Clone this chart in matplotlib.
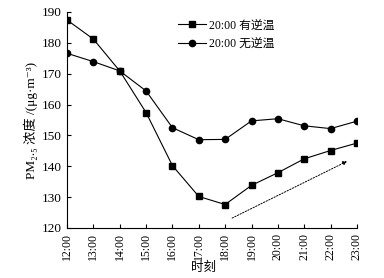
import matplotlib
matplotlib.use("Agg")
import matplotlib.pyplot as plt

plt.rcParams['font.family'] = ['Liberation Serif', 'Noto Sans CJK SC', 'DejaVu Serif']

hours = list(range(12, 24))
hour_labels = [f"{h}:00" for h in hours]
with_inversion = [187.4, 181.2, 170.9, 157.4, 140.2, 130.2, 127.6, 133.8, 137.9, 142.4, 145.1, 147.5]
no_inversion = [176.6, 173.9, 170.9, 164.4, 152.5, 148.6, 148.7, 154.7, 155.4, 153.1, 152.2, 154.6]
trend_start = (18.17, 122.8)
trend_end = (22.72, 142.0)

fig = plt.figure(figsize=(3.84, 2.78), dpi=100)
ax = fig.add_axes([0.1745, 0.18, 0.755, 0.777])

ax.plot(hours, with_inversion, color='black', lw=0.8, marker='s', ms=4.5,
        label='20:00 有逆温')
ax.plot(hours, no_inversion, color='black', lw=0.8, marker='o', ms=4.5,
        label='20:00 无逆温')

ax.annotate('', xy=trend_end, xytext=trend_start,
            arrowprops=dict(arrowstyle='-|>', linestyle=(0, (1.5, 1.5)), lw=0.7,
                            color='black', mutation_scale=6))

ax.set_xlim(12, 23)
ax.set_ylim(120, 190)
ax.set_xticks(hours)
ax.set_xticklabels(hour_labels, rotation=90, fontsize=8.5)
ax.set_yticks(range(120, 191, 10))
ax.tick_params(axis='y', labelsize=9.5)
ax.tick_params(direction='in', length=3, width=0.8)
for side in ['top', 'right']:
    ax.spines[side].set_visible(False)
for side in ['left', 'bottom']:
    ax.spines[side].set_linewidth(0.8)

ax.set_xlabel('时刻', fontsize=9, labelpad=1, x=0.47)
ax.set_ylabel('PM₂.₅ 浓度 /(μg·m⁻³)', fontsize=9.5, labelpad=3)

ax.legend(loc='upper left', bbox_to_anchor=(0.355, 1.0), frameon=False, fontsize=8.5,
          handlelength=2.4, handletextpad=0.3, labelspacing=0.55, borderaxespad=0.25)

fig.savefig('out.png', dpi=100)
